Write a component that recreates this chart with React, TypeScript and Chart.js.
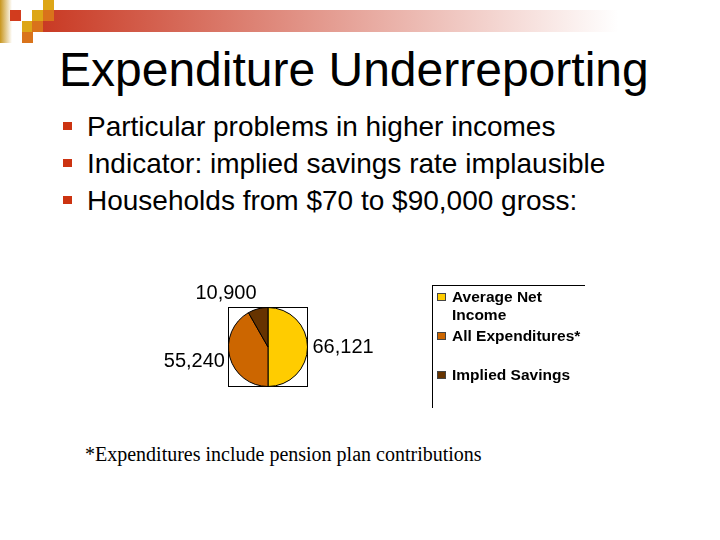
import React, { useRef, useEffect } from 'react';
import { Chart, registerables } from 'chart.js';

Chart.register(...registerables);

const title = 'Expenditure Underreporting';
const bullets = [
  'Particular problems in higher incomes',
  'Indicator: implied savings rate implausible',
  'Households from $70 to $90,000 gross:',
];
const categories = ['Average Net Income', 'All Expenditures*', 'Implied Savings'];
const values = [66121, 55240, 10900];
const sliceColors = ['#FFCC00', '#CC6600', '#663300'];
const footnote = '*Expenditures include pension plan contributions';

const ARIAL = '"Liberation Sans", Arial, sans-serif';
const TIMES = '"Liberation Serif", "Times New Roman", serif';

// frame around the plot area, like the old office chart
const plotFrame = {
  id: 'plotFrame',
  beforeDatasetsDraw(chart: any) {
    const { ctx, chartArea } = chart;
    ctx.save();
    ctx.strokeStyle = '#000';
    ctx.lineWidth = 1;
    ctx.strokeRect(chartArea.left + 0.5, chartArea.top + 0.5, chartArea.width - 1, chartArea.height - 1);
    ctx.restore();
  },
};

// value labels outside each slice
const sliceLabels = {
  id: 'sliceLabels',
  afterDatasetsDraw(chart: any) {
    const { ctx } = chart;
    const meta = chart.getDatasetMeta(0);
    ctx.save();
    ctx.font = `20px ${ARIAL}`;
    ctx.fillStyle = '#000';
    meta.data.forEach((arc: any, i: number) => {
      const { x, y, startAngle, endAngle, outerRadius } = arc.getProps(
        ['x', 'y', 'startAngle', 'endAngle', 'outerRadius'],
        true
      );
      const mid = (startAngle + endAngle) / 2;
      const cos = Math.cos(mid);
      const sin = Math.sin(mid);
      const r = outerRadius + 5;
      ctx.textAlign = cos > 0.2 ? 'left' : cos < -0.2 ? 'right' : 'center';
      ctx.textBaseline = sin < -0.7 ? 'bottom' : sin > 0.7 ? 'top' : 'middle';
      ctx.fillText(values[i].toLocaleString('en-US'), x + cos * r, y + sin * r + (sin > 0.2 ? 3 : 0));
    });
    ctx.restore();
  },
};

const PieChart: React.FC = () => {
  const canvasRef = useRef<HTMLCanvasElement>(null);
  const chartRef = useRef<Chart | null>(null);

  useEffect(() => {
    if (!canvasRef.current) return;
    const ctx = canvasRef.current.getContext('2d');
    if (!ctx) return;
    if (chartRef.current) chartRef.current.destroy();

    chartRef.current = new Chart(ctx, {
      type: 'pie',
      data: {
        labels: categories,
        datasets: [{
          data: values,
          backgroundColor: sliceColors,
          borderColor: '#000',
          borderWidth: 1,
        }],
      },
      options: {
        responsive: false,
        animation: false,
        layout: { padding: { left: 88, top: 37, right: 132, bottom: 33 } },
        plugins: {
          legend: { display: false },
          tooltip: { enabled: false },
        },
      },
      plugins: [plotFrame, sliceLabels],
    });

    return () => {
      if (chartRef.current) {
        chartRef.current.destroy();
        chartRef.current = null;
      }
    };
  }, []);

  return <canvas ref={canvasRef} width={300} height={150} style={{ position: 'absolute', left: 140, top: 270 }} />;
};

const sq = (left: number, top: number, color: string): React.CSSProperties => ({
  position: 'absolute', left, top, width: 11, height: 11, background: color,
});

export default function App() {
  const gold = '#DDA617';
  const orange = '#D9731B';
  const red = '#D23C1E';

  return (
    <div style={{
      position: 'absolute', left: 0, top: 0, width: 720, height: 540,
      background: '#fff', overflow: 'hidden', fontFamily: ARIAL,
    }}>
      {/* header decoration */}
      <div style={{ position: 'absolute', left: 0, top: 0, width: 12, height: 43, background: 'linear-gradient(to right, #C8961E, #ffffff)' }} />
      <div style={{ position: 'absolute', left: 43, top: 10, width: 677, height: 22, background: 'linear-gradient(to right, #C93A24 0%, #ffffff 85%)' }} />
      <div style={sq(10, 10, red)} />
      <div style={sq(32, 10, gold)} />
      <div style={sq(43, 0, gold)} />
      <div style={sq(43, 10, orange)} />
      <div style={sq(22, 21, gold)} />
      <div style={sq(32, 21, orange)} />
      <div style={sq(22, 32, orange)} />

      <div style={{ position: 'absolute', left: 59, top: 46, fontSize: 48, lineHeight: '48px', color: '#000', whiteSpace: 'nowrap' }}>
        {title}
      </div>

      <div style={{ position: 'absolute', left: 63, top: 108.3 }}>
        {bullets.map((b, i) => (
          <div key={i} style={{ position: 'relative', height: 37, lineHeight: '37px', fontSize: 28, whiteSpace: 'nowrap' }}>
            <span style={{ position: 'absolute', left: 0, top: 13.5, width: 8.5, height: 8.5, background: '#CC3311' }} />
            <span style={{ position: 'absolute', left: 24 }}>{b}</span>
          </div>
        ))}
      </div>

      <PieChart />

      <div style={{
        position: 'absolute', left: 432, top: 285, width: 153, height: 123,
        borderTop: '1px solid #000', borderLeft: '1px solid #000', boxSizing: 'border-box',
        paddingTop: 2.3,
      }}>
        {categories.map((c, i) => (
          <div key={i} style={{ position: 'relative', minHeight: 36, marginBottom: 3, fontSize: 15.5, fontWeight: 'bold', lineHeight: '18px' }}>
            <span style={{ position: 'absolute', left: 4, top: 5, width: 9, height: 8, background: sliceColors[i], border: '1px solid #444', boxSizing: 'border-box' }} />
            <div style={{ marginLeft: 19, width: 132 }}>{c}</div>
          </div>
        ))}
      </div>

      <div style={{ position: 'absolute', left: 85, top: 444, fontFamily: TIMES, fontSize: 20, lineHeight: '20px', whiteSpace: 'nowrap' }}>
        {footnote}
      </div>
    </div>
  );
}
